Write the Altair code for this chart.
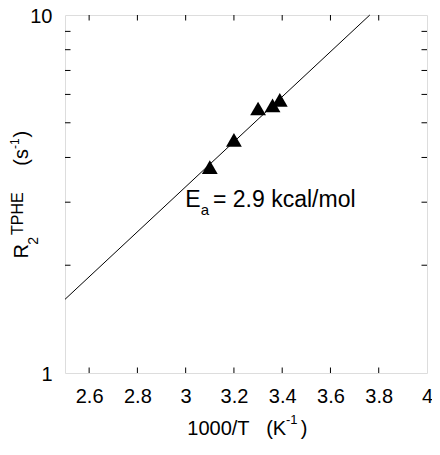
import altair as alt
import pandas as pd

# data
inv_t = [3.10, 3.20, 3.30, 3.36, 3.39]
r2 = [3.76, 4.48, 5.48, 5.59, 5.79]
fit_x = [2.5, 3.763]
fit_y = [1.606, 10.0]
x_tick_vals = [2.6, 2.8, 3.0, 3.2, 3.4, 3.6, 3.8, 4.0]
y_minor = [2, 3, 4, 5, 6, 7, 8, 9]
y_label_vals = [1, 10]

W = 362
H = 358
FONT = "Liberation Sans"
TL = 5.5

xs = alt.Scale(domain=[2.5, 4.0], nice=False, zero=False)
ys = alt.Scale(type="log", domain=[1, 10], nice=False)

pts = pd.DataFrame({"x": inv_t, "y": r2})
fit = pd.DataFrame({"x": fit_x, "y": fit_y})
xt = pd.DataFrame({"x": x_tick_vals[:-1]})
yt = pd.DataFrame({"y": y_minor})
one = pd.DataFrame({"a": [0]})

line = alt.Chart(fit).mark_line(color="black", strokeWidth=1).encode(
    x=alt.X("x:Q", scale=xs, axis=alt.Axis(
        values=x_tick_vals, format="~g", ticks=False, tickSize=0, domain=False,
        grid=False, labelFont=FONT, labelFontSize=20, labelColor="black",
        labelPadding=13.5, title=None, labelFlush=False)),
    y=alt.Y("y:Q", scale=ys, axis=alt.Axis(
        values=y_label_vals, format="~g", ticks=False, tickSize=0, domain=False,
        grid=False, labelFont=FONT, labelFontSize=20, labelColor="black",
        labelPadding=13, labelOffset=1, title=None, labelFlush=False)),
)

tri = alt.Chart(pts).mark_point(shape="triangle-up", filled=True, color="black",
                                 size=250, opacity=1).encode(
    x=alt.X("x:Q", scale=xs), y=alt.Y("y:Q", scale=ys))

tb = alt.Chart(xt).mark_rule(color="black", strokeWidth=1).encode(
    x=alt.X("x:Q", scale=xs), y=alt.value(H), y2=alt.value(H - TL))
tt = alt.Chart(xt).mark_rule(color="black", strokeWidth=1).encode(
    x=alt.X("x:Q", scale=xs), y=alt.value(0), y2=alt.value(TL))
tl = alt.Chart(yt).mark_rule(color="black", strokeWidth=1).encode(
    y=alt.Y("y:Q", scale=ys), x=alt.value(0), x2=alt.value(TL))
tr = alt.Chart(yt).mark_rule(color="black", strokeWidth=1).encode(
    y=alt.Y("y:Q", scale=ys), x=alt.value(W), x2=alt.value(W - TL))


def txt(s, x, y, size, angle=0):
    kw = dict(align="left", baseline="alphabetic", font=FONT, fontSize=size,
              color="black")
    if angle:
        kw["angle"] = angle
    return alt.Chart(one).mark_text(**kw).encode(
        x=alt.value(x), y=alt.value(y), text=alt.value(s))


OX, OY = 65, 15
labels = [
    # x axis title
    txt("1000/T", 187.3 - OX, 435 - OY, 20),
    txt("(K", 266.2 - OX, 435 - OY, 20),
    txt("-1", 286 - OX, 424 - OY, 13),
    txt(")", 300.7 - OX, 435 - OY, 20),
    # y axis title (rotated, reads bottom to top)
    txt("R", 28 - OX, 258.4 - OY, 20, 270),
    txt("2", 38 - OX, 244.7 - OY, 14, 270),
    txt("TPHE", 23 - OX, 235 - OY, 16, 270),
    txt("(s", 28 - OX, 165.7 - OY, 20, 270),
    txt("-1", 18.5 - OX, 149 - OY, 12, 270),
    txt(")", 28 - OX, 137.5 - OY, 20, 270),
    # annotation
    txt("E", 185.3 - OX, 206.7 - OY, 23),
    txt("a", 200.8 - OX, 214.5 - OY, 15),
    txt("= 2.9 kcal/mol", 213 - OX, 206.7 - OY, 23),
]

chart = alt.layer(line, tb, tt, tl, tr, tri, *labels).properties(
    width=W, height=H,
    autosize=alt.AutoSizeParams(type="none"),
    padding={"left": 57, "top": 7, "right": 5, "bottom": 66},
).configure_view(stroke="black", strokeWidth=1.5).configure(background="white")

chart.save("out.html", embed_options={"renderer": "svg", "actions": False})
